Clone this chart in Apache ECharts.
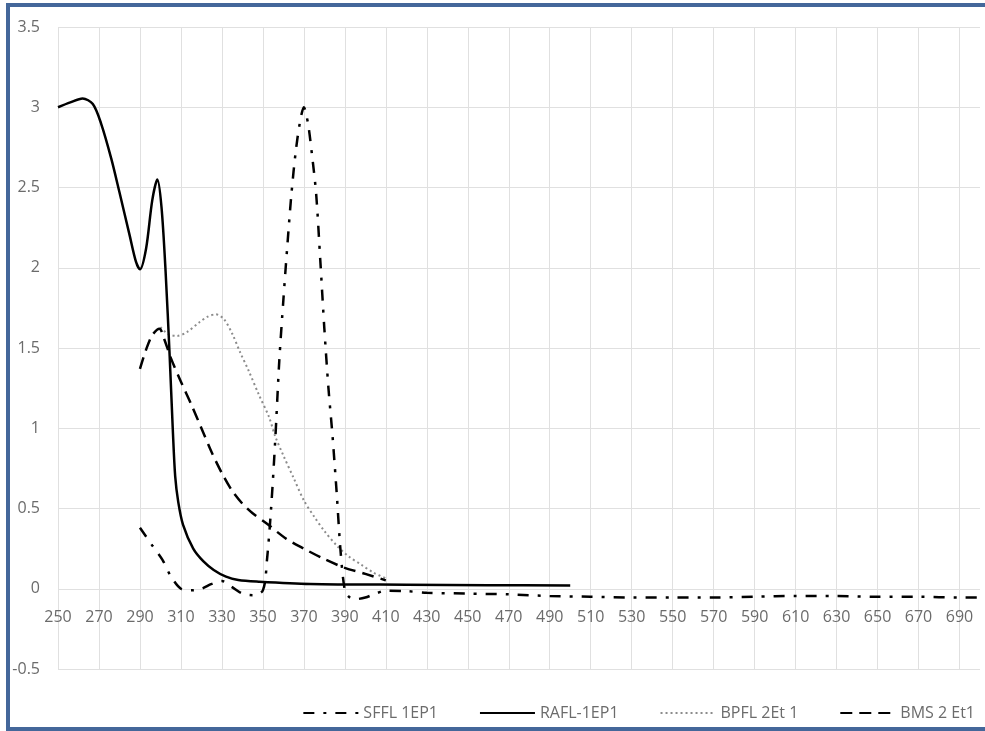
<!DOCTYPE html>
<html>
<head>
<meta charset="utf-8">
<script src="https://cdn.jsdelivr.net/npm/echarts@6/dist/echarts.min.js"></script>
<style>
html,body{margin:0;padding:0;background:#fff;overflow:hidden;}
#frame{position:absolute;left:6px;top:3px;width:1000px;height:728px;box-sizing:border-box;border:4px solid #44679a;}
#chart{position:absolute;left:0;top:0;width:985px;height:731px;}
</style>
</head>
<body>
<div id="chart"></div>
<div id="frame"></div>
<script>
// Axis categories (tick labels every 20, grid every 20)
const wavelengthTicks = [];
for (let w = 250; w <= 700; w += 10) wavelengthTicks.push(String(w));

// SFFL 1EP1
const sfflX = [290, 296, 301, 305, 310, 315, 320, 325, 330, 335, 340, 345, 350, 352, 354, 356, 358, 360, 362, 364, 366, 368, 370, 372, 374, 376, 378, 380, 382, 384, 386, 388, 390, 392, 395, 400, 405, 410, 420, 430, 450, 470, 490, 510, 530, 550, 570, 590, 610, 630, 650, 670, 690, 700];
const sfflY = [0.38, 0.27, 0.18, 0.08, 0.0, -0.01, 0.0, 0.03, 0.048, 0.01, -0.03, -0.04, -0.01, 0.18, 0.5, 0.92, 1.42, 1.8, 2.15, 2.47, 2.72, 2.9, 3.0, 2.9, 2.7, 2.46, 2.05, 1.62, 1.25, 0.95, 0.6, 0.22, -0.01, -0.05, -0.065, -0.055, -0.03, -0.012, -0.015, -0.025, -0.03, -0.035, -0.045, -0.05, -0.055, -0.055, -0.055, -0.05, -0.045, -0.045, -0.05, -0.05, -0.055, -0.055];

// RAFL-1EP1
const raflX = [250, 256, 262, 267, 271, 276, 280, 285, 288, 290, 293, 296, 298.5, 300.5, 302.5, 304.5, 306, 307.2, 308.7, 311, 316, 321, 326, 332, 338, 348, 373, 420, 460, 500];
const raflY = [3.0, 3.03, 3.055, 3.02, 2.9, 2.68, 2.47, 2.2, 2.04, 1.99, 2.12, 2.42, 2.55, 2.38, 1.98, 1.45, 1.0, 0.7, 0.54, 0.4, 0.25, 0.17, 0.117, 0.075, 0.054, 0.044, 0.03, 0.025, 0.022, 0.02];

// BPFL 2Et 1
const bpflX = [300, 304, 308, 313, 319, 323, 327, 331, 335, 339, 343, 348, 353, 356, 360, 365, 370, 375, 380, 386, 392, 398, 404, 410];
const bpflY = [1.63, 1.585, 1.575, 1.6, 1.66, 1.695, 1.71, 1.68, 1.59, 1.47, 1.36, 1.21, 1.07, 0.95, 0.83, 0.69, 0.55, 0.45, 0.36, 0.27, 0.2, 0.15, 0.1, 0.065];

// BMS 2 Et1
const bmsX = [290, 293, 296, 299.5, 302, 305, 310, 315, 320, 325, 330, 335, 340, 345, 352, 361, 370, 380, 390, 400, 410];
const bmsY = [1.37, 1.49, 1.58, 1.62, 1.55, 1.44, 1.29, 1.15, 1.0, 0.85, 0.72, 0.61, 0.53, 0.47, 0.405, 0.315, 0.25, 0.185, 0.13, 0.093, 0.052];

const seriesNames = ['SFFL 1EP1', 'RAFL-1EP1', 'BPFL 2Et 1', 'BMS 2 Et1'];

function pairs(xs, ys) { return xs.map((x, i) => [x, ys[i]]); }

const FONT = '"Open Sans", "Noto Sans", sans-serif';
const TXT = '#6b6b6b';
const GRID = '#e0e0e0';

const chart = echarts.init(document.getElementById('chart'), null, {renderer: 'canvas'});
chart.setOption({
  animation: false,
  backgroundColor: '#fff',
  grid: {left: 58, right: 5, top: 27, bottom: 62, containLabel: false},
  legend: {
    data: seriesNames,
    right: 5,
    top: 700,
    itemWidth: 55,
    itemHeight: 14,
    itemGap: 41,
    itemStyle: {opacity: 0},
    textStyle: {fontFamily: FONT, fontSize: 16, color: TXT}
  },
  xAxis: [
    {
      type: 'category',
      data: wavelengthTicks,
      boundaryGap: false,
      position: 'bottom',
      offset: -82,
      axisLine: {show: false, onZero: false},
      axisTick: {show: false},
      axisLabel: {interval: 1, margin: 22, fontFamily: FONT, fontSize: 16, color: TXT},
      splitLine: {show: true, interval: 1, lineStyle: {color: GRID, width: 1}}
    },
    {
      type: 'value',
      min: 250,
      max: 700,
      show: false,
      axisLine: {onZero: false},
      splitLine: {show: false}
    }
  ],
  yAxis: {
    type: 'value',
    min: -0.5,
    max: 3.5,
    interval: 0.5,
    axisLine: {show: false, onZero: false},
    axisTick: {show: false},
    axisLabel: {margin: 18, fontFamily: FONT, fontSize: 16, color: TXT},
    splitLine: {show: true, lineStyle: {color: GRID, width: 1}}
  },
  series: [
    {
      name: seriesNames[0], type: 'line', xAxisIndex: 1, symbol: 'none', smooth: 0.3,
      data: pairs(sfflX, sfflY),
      lineStyle: {color: '#000', width: 2.5, type: [11, 9, 3, 9]},
      itemStyle: {color: '#000'}, z: 3
    },
    {
      name: seriesNames[1], type: 'line', xAxisIndex: 1, symbol: 'none', smooth: 0.3,
      data: pairs(raflX, raflY),
      lineStyle: {color: '#000', width: 2.5, type: 'solid'},
      itemStyle: {color: '#000'}, z: 4
    },
    {
      name: seriesNames[2], type: 'line', xAxisIndex: 1, symbol: 'none', smooth: 0.3,
      data: pairs(bpflX, bpflY),
      lineStyle: {color: '#8c8c8c', width: 2, type: [2, 3]},
      itemStyle: {color: '#8c8c8c'}, z: 2
    },
    {
      name: seriesNames[3], type: 'line', xAxisIndex: 1, symbol: 'none', smooth: 0.3,
      data: pairs(bmsX, bmsY),
      lineStyle: {color: '#000', width: 2.5, type: [12, 7]},
      itemStyle: {color: '#000'}, z: 3
    }
  ]
});
</script>
</body>
</html>
